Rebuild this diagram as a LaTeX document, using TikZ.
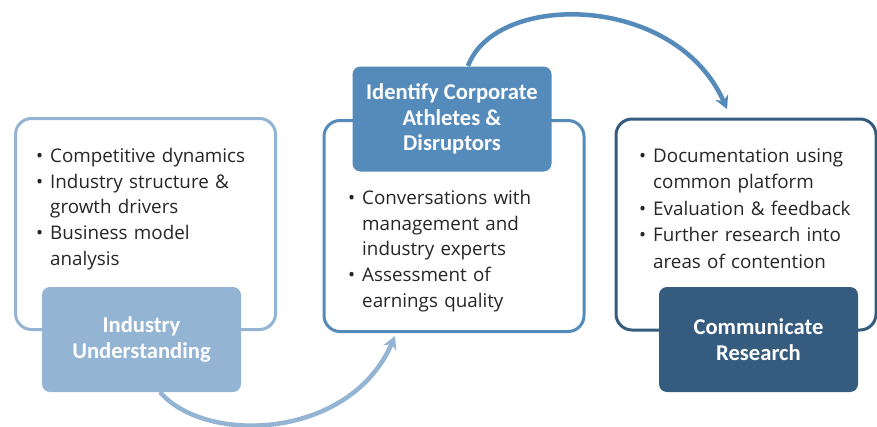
\documentclass[tikz,border=0pt]{standalone}
\usepackage{fontspec}
\setmainfont{Carlito}
\newfontfamily\bodyfont[HyphenChar=None]{Open Sans}
\usetikzlibrary{arrows.meta,calc}
\definecolor{cone}{HTML}{94B4D4}
\definecolor{ctwo}{HTML}{558BBB}
\definecolor{cthree}{HTML}{355C7F}
\definecolor{txt}{HTML}{262626}
\newcommand{\bitem}[1]{\hangindent=14pt\hangafter=1\noindent\makebox[14pt][l]{\textbullet}#1\par}
\tikzset{
  outline/.style={draw, line width=3pt, rounded corners=16pt, fill=white, minimum width=260pt, minimum height=211pt, inner sep=0pt},
  labelbox/.style={rounded corners=8pt, minimum width=199pt, minimum height=105pt, text=white, font=\fontsize{22.6}{25.5}\selectfont\bfseries, align=center, inner sep=0pt},
  bullets/.style={anchor=north west, inner sep=0pt, text=txt, text width=230pt, align=left, font=\bodyfont\fontsize{18.8}{25.7}\selectfont},
  flow/.style={line width=4.5pt, -{Stealth[length=13pt,width=14pt]}},
}
\begin{document}
\begin{tikzpicture}[x=1pt,y=-1pt]
\useasboundingbox (0,0) rectangle (877,426);
% arrows (behind boxes)
\coordinate (a1s) at (160,392);
\coordinate (a1e) at (395,336);
\coordinate (a2s) at (468,66);
\coordinate (a2e) at (727,109);
\draw[flow, cone] (a1s) .. controls (205,445) and (350,440) .. (a1e);
\draw[flow, ctwo] (a2s) .. controls (495,-8) and (675,-8) .. (a2e);
% outline boxes
\node[outline, draw=cone] (b1) at (145.5,224) {};
\node[outline, draw=ctwo] (b2) at (454,226) {};
\node[outline, draw=cthree] (b3) at (746,224.5) {};
% label boxes
\node[labelbox, fill=cone] (l1) at (141.5,339.5) {Industry\\Understanding};
\node[labelbox, fill=ctwo] (l2) at (452,119) {Identify Corporate\\Athletes \&\\Disruptors};
\node[labelbox, fill=cthree] (l3) at (758.5,339.5) {Communicate\\Research};
% bullet texts
\node[bullets, text width=225pt] (t1) at (36,148) {\bitem{Competitive dynamics}\bitem{Industry structure \& growth drivers}\bitem{Business model analysis}};
\node[bullets, text width=200pt] (t2) at (348,190) {\bitem{Conversations with management and industry experts}\bitem{Assessment of earnings quality}};
\node[bullets, text width=220pt, font=\bodyfont\fontsize{18.8}{26.6}\selectfont] (t3) at (639,148) {\bitem{Documentation using common platform}\bitem{Evaluation \& feedback}\bitem{Further research into areas of contention}};
\end{tikzpicture}
\end{document}
